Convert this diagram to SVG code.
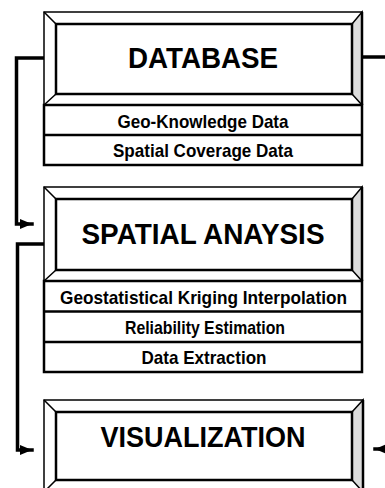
<svg xmlns="http://www.w3.org/2000/svg" width="385" height="488" viewBox="0 0 385 488">
<style>
.outer{fill:#fff;stroke:#000;stroke-width:1.5}
.bevel{fill:none;stroke:#000;stroke-width:1.5}
.shade{fill:#dcdcdc;stroke:#000;stroke-width:1.5}
.inner{fill:#fff;stroke:#000;stroke-width:2.5}
.edge{fill:none;stroke:#000;stroke-width:2.5}
.rows{fill:#fff;stroke:#000;stroke-width:2.5}
.div{stroke:#000;stroke-width:2.5}
.title{font-family:"Liberation Sans",Arial,Helvetica,sans-serif;font-weight:bold;font-size:30px;fill:#000;text-anchor:middle}
.item{font-family:"Liberation Sans",Arial,Helvetica,sans-serif;font-weight:bold;font-size:18.5px;fill:#000;text-anchor:middle}
.conn{fill:none;stroke:#000;stroke-width:3.5;stroke-linejoin:miter;stroke-linecap:square}
</style>
<defs>
<marker id="arr" markerUnits="userSpaceOnUse" markerWidth="14" markerHeight="14" viewBox="0 0 14 14" refX="12" refY="7" orient="auto">
<path d="M0,2 L12,7 L0,12 Z" fill="#000"/>
</marker>
</defs>

<g id="connectors">
<polyline class="conn" points="44,58 16.5,58 16.5,224 32,224" marker-end="url(#arr)"/>
<polyline class="conn" points="44,244 17.5,244 17.5,450 32,450" marker-end="url(#arr)"/>
<line class="conn" x1="363" y1="57" x2="386" y2="57" stroke-linecap="butt"/>
<line class="conn" x1="386" y1="449" x2="375" y2="449" stroke-linecap="butt" marker-end="url(#arr)"/>
</g>

<g id="database">
<rect class="outer" x="44" y="12" width="318" height="93"/>
<polygon class="shade" points="352,24 362,12 362,105 352,94"/>
<path class="bevel" d="M44,12 L56,24 M44,105 L56,94"/>
<line class="edge" x1="362" y1="12" x2="362" y2="105"/>
<rect class="inner" x="56" y="24" width="296" height="70"/>
<text class="title" x="203" y="68" textLength="150" lengthAdjust="spacingAndGlyphs">DATABASE</text>
<rect class="rows" x="44" y="105" width="318" height="60"/>
<line class="div" x1="44" y1="135" x2="362" y2="135"/>
<text class="item" x="203" y="127.5" textLength="171" lengthAdjust="spacingAndGlyphs">Geo-Knowledge Data</text>
<text class="item" x="203" y="157" textLength="180" lengthAdjust="spacingAndGlyphs">Spatial Coverage Data</text>
</g>

<g id="spatial-analysis">
<rect class="outer" x="44" y="187" width="318" height="94"/>
<polygon class="shade" points="352,199 362,187 362,281 352,270"/>
<path class="bevel" d="M44,187 L56,199 M44,281 L56,270"/>
<line class="edge" x1="362" y1="187" x2="362" y2="281"/>
<rect class="inner" x="56" y="199" width="296" height="71"/>
<text class="title" x="203" y="244" textLength="243" lengthAdjust="spacingAndGlyphs">SPATIAL ANAYSIS</text>
<rect class="rows" x="44" y="281" width="318" height="91"/>
<line class="div" x1="44" y1="311.5" x2="362" y2="311.5"/>
<line class="div" x1="44" y1="342" x2="362" y2="342"/>
<text class="item" x="203.5" y="304" textLength="287" lengthAdjust="spacingAndGlyphs">Geostatistical Kriging Interpolation</text>
<text class="item" x="205" y="334" textLength="160" lengthAdjust="spacingAndGlyphs">Reliability Estimation</text>
<text class="item" x="204" y="364" textLength="125" lengthAdjust="spacingAndGlyphs">Data Extraction</text>
</g>

<g id="visualization">
<rect class="outer" x="44" y="400" width="319" height="92"/>
<polygon class="shade" points="352,412 363,400 363,492 352,480"/>
<path class="bevel" d="M44,400 L56,412 M44,492 L56,480"/>
<line class="edge" x1="363" y1="400" x2="363" y2="492"/>
<rect class="inner" x="56" y="412" width="296" height="68"/>
<text class="title" x="203" y="447" textLength="205" lengthAdjust="spacingAndGlyphs">VISUALIZATION</text>
</g>
</svg>
